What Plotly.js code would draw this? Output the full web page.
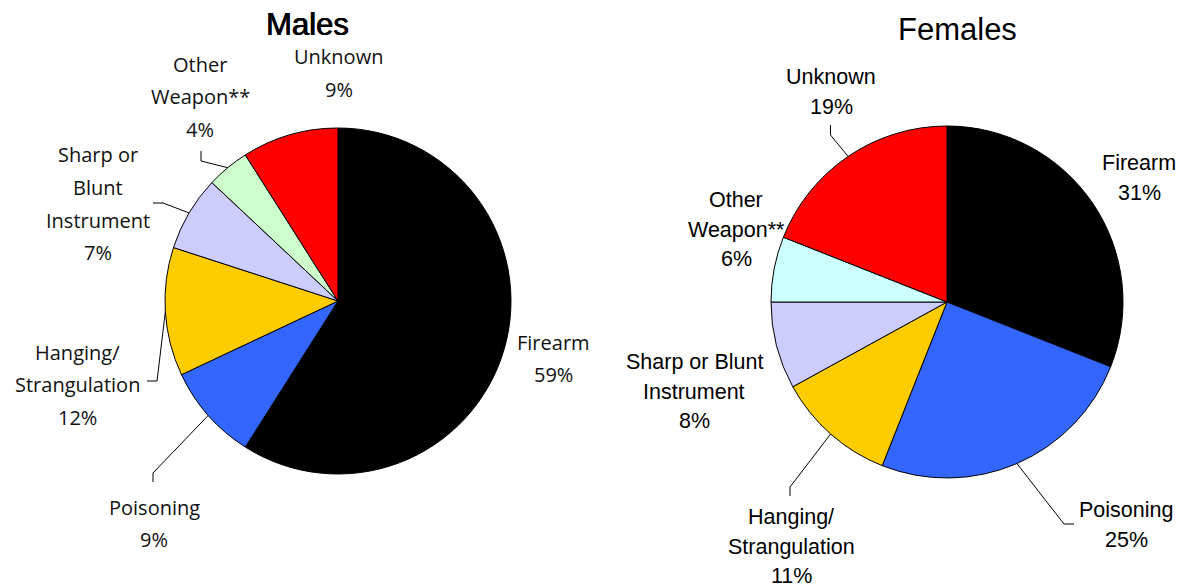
<!DOCTYPE html>
<html>
<head>
<meta charset="utf-8">
<script src="https://cdn.plot.ly/plotly-3.0.1.min.js"></script>
<style>html,body{margin:0;padding:0;background:#fff;}#chart{width:1183px;height:585px;}</style>
</head>
<body>
<div id="chart"></div>
<script>
// ---- data ----
const categories = ["Firearm", "Poisoning", "Hanging/Strangulation", "Sharp or Blunt Instrument", "Other Weapon**", "Unknown"];
const malesValues = [59, 9, 12, 7, 4, 9];
const femalesValues = [31, 25, 11, 8, 6, 19];
const malesLabelText = ["Firearm", "Poisoning", "Hanging/<br>Strangulation", "Sharp or<br>Blunt<br>Instrument", "Other<br>Weapon**", "Unknown"];
const femalesLabelText = ["Firearm", "Poisoning", "Hanging/<br>Strangulation", "Sharp or Blunt<br>Instrument", "Other<br>Weapon**", "Unknown"];
const malesColors = ["#000000", "#3366FF", "#FFCC00", "#CCCCFF", "#CCFFCC", "#FF0000"];
const femalesColors = ["#000000", "#3366FF", "#FFCC00", "#CCCCFF", "#CCFFFF", "#FF0000"];
const titles = ["Males", "Females"];

// ---- layout configuration (pixels) ----
const W = 1183, H = 585;
const pies = [
  {cx: 338, cy: 301, r: 173, values: malesValues, colors: malesColors, text: malesLabelText,
   font: {family: "Open Sans, Liberation Sans, sans-serif", size: 20, color: "#111"}, spacing: 32.5,
   title: {x: 307, y: 25, font: {family: "Liberation Sans, Arial, sans-serif", size: 31, color: "#000",
     shadow: "0.6px 0 0 #000, -0.3px 0 0 #000"}},
   labelPos: [[553, 342], [154, 507], [77, 352], [98, 155], [200, 64], [339, 57]],
   elbows: [null, [[153, 473], [153, 482]], [[157, 381], [147, 381]], [[163, 203], [153, 203]], [[201, 161], [201, 151]], null]},
  {cx: 947, cy: 302, r: 176, values: femalesValues, colors: femalesColors, text: femalesLabelText,
   font: {family: "Liberation Sans, Arial, sans-serif", size: 21.5, color: "#000"}, spacing: 29.7,
   title: {x: 957, y: 29, font: {family: "Liberation Sans, Arial, sans-serif", size: 31, color: "#000"}},
   labelPos: [[1139, 163], [1126, 510], [791, 517], [694, 362], [736, 200], [831, 77]],
   elbows: [null, [[1064, 524], [1074, 524]], [[790, 487], [790, 496]], null, null, [[830.5, 135], [830.5, 125]]]}
];

const px = x => x / W;
const py = y => 1 - y / H;

const traces = [];
const annotations = [];
const shapes = [];

pies.forEach((p, k) => {
  traces.push({
    type: "pie",
    labels: categories,
    values: p.values,
    sort: false,
    direction: "clockwise",
    rotation: 0,
    textinfo: "none",
    hoverinfo: "label+percent",
    marker: {colors: p.colors, line: {color: "#000", width: 1}},
    domain: {x: [px(p.cx - p.r), px(p.cx + p.r)], y: [py(p.cy + p.r), py(p.cy - p.r)]},
    showlegend: false
  });
  annotations.push({
    text: titles[k], xref: "paper", yref: "paper", x: px(p.title.x), y: py(p.title.y),
    xanchor: "center", yanchor: "middle", showarrow: false, font: p.title.font
  });
  const total = p.values.reduce((a, b) => a + b, 0);
  let cum = 0;
  p.values.forEach((v, i) => {
    const lines = p.text[i].split("<br>").concat([Math.round(v / total * 100) + "%"]);
    const [lx, ly] = p.labelPos[i];
    lines.forEach((t, j) => {
      annotations.push({
        text: t, xref: "paper", yref: "paper", x: px(lx), y: py(ly + j * p.spacing),
        xanchor: "center", yanchor: "middle", showarrow: false, font: p.font
      });
    });
    const mid = (cum + v / 2) / total * 2 * Math.PI;
    cum += v;
    if (p.elbows[i]) {
      const sx = p.cx + p.r * Math.sin(mid);
      const sy = p.cy - p.r * Math.cos(mid);
      let path = "M " + px(sx) + " " + py(sy);
      p.elbows[i].forEach(pt => { path += " L " + px(pt[0]) + " " + py(pt[1]); });
      shapes.push({type: "path", xref: "paper", yref: "paper", path: path,
        line: {color: "#000", width: 1}});
    }
  });
});

const layout = {
  width: W, height: H,
  margin: {l: 0, r: 0, t: 0, b: 0},
  paper_bgcolor: "#fff",
  plot_bgcolor: "#fff",
  annotations: annotations,
  shapes: shapes,
  showlegend: false
};

Plotly.newPlot("chart", traces, layout, {displayModeBar: false, staticPlot: true});
</script>
</body>
</html>
